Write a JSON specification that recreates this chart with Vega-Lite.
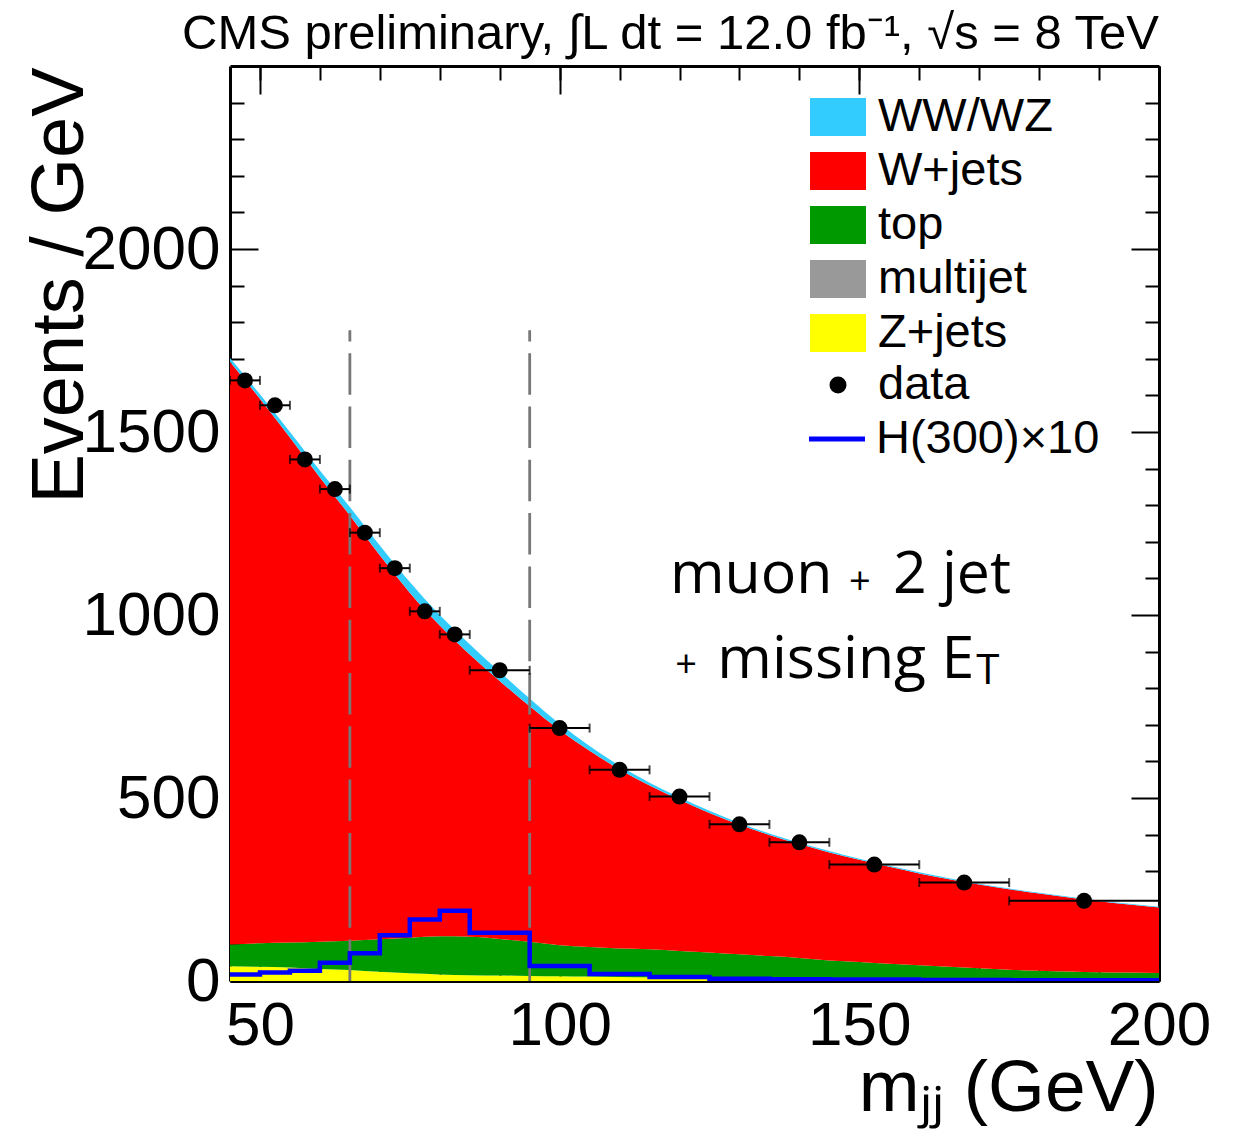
{
  "$schema": "https://vega.github.io/schema/vega-lite/v6.json",
  "width": 929,
  "height": 915,
  "autosize": {"type": "none"},
  "padding": {"left": 230, "top": 66, "right": 88, "bottom": 154},
  "background": "white",
  "config": {
    "font": "Liberation Sans",
    "view": {"stroke": null},
    "axis": {"grid": false, "tickColor": "black", "tickWidth": 2, "domainColor": "black", "labelColor": "black", "titleColor": "black", "labelFont": "Liberation Sans", "titleFont": "Liberation Sans", "zindex": 1},
    "legend": {"labelFont": "Liberation Sans", "labelColor": "black"}
  },
  "title": {
    "text": "CMS preliminary, ∫L dt = 12.0 fb⁻¹, √s = 8 TeV",
    "anchor": "end",
    "frame": "group",
    "fontSize": 49,
    "font": "Liberation Sans",
    "fontWeight": "normal",
    "color": "black",
    "baseline": "alphabetic",
    "offset": -33
  },
  "datasets": {
    "obs": [
      {"m": 47.5, "lo": 45, "hi": 50, "n": 1641},
      {"m": 52.5, "lo": 50, "hi": 55, "n": 1573},
      {"m": 57.5, "lo": 55, "hi": 60, "n": 1425},
      {"m": 62.5, "lo": 60, "hi": 65, "n": 1344},
      {"m": 67.5, "lo": 65, "hi": 70, "n": 1225},
      {"m": 72.5, "lo": 70, "hi": 75, "n": 1128},
      {"m": 77.5, "lo": 75, "hi": 80, "n": 1010},
      {"m": 82.5, "lo": 80, "hi": 85, "n": 947},
      {"m": 90, "lo": 85, "hi": 95, "n": 849},
      {"m": 100, "lo": 95, "hi": 105, "n": 691},
      {"m": 110, "lo": 105, "hi": 115, "n": 577},
      {"m": 120, "lo": 115, "hi": 125, "n": 504},
      {"m": 130, "lo": 125, "hi": 135, "n": 428},
      {"m": 140, "lo": 135, "hi": 145, "n": 379},
      {"m": 152.5, "lo": 145, "hi": 160, "n": 318},
      {"m": 167.5, "lo": 160, "hi": 175, "n": 269},
      {"m": 187.5, "lo": 175, "hi": 200, "n": 219}
    ]
  },
  "layer": [
    {
      "data": {"values": [
        {"m": 45, "process": "Z+jets", "ord": 1, "v": 40}, {"m": 50, "process": "Z+jets", "ord": 1, "v": 39}, {"m": 55, "process": "Z+jets", "ord": 1, "v": 37}, {"m": 60, "process": "Z+jets", "ord": 1, "v": 33},
        {"m": 65, "process": "Z+jets", "ord": 1, "v": 30}, {"m": 70, "process": "Z+jets", "ord": 1, "v": 25}, {"m": 75, "process": "Z+jets", "ord": 1, "v": 21}, {"m": 80, "process": "Z+jets", "ord": 1, "v": 18},
        {"m": 85, "process": "Z+jets", "ord": 1, "v": 16}, {"m": 90, "process": "Z+jets", "ord": 1, "v": 15}, {"m": 95, "process": "Z+jets", "ord": 1, "v": 14}, {"m": 100, "process": "Z+jets", "ord": 1, "v": 13},
        {"m": 105, "process": "Z+jets", "ord": 1, "v": 12}, {"m": 110, "process": "Z+jets", "ord": 1, "v": 11}, {"m": 115, "process": "Z+jets", "ord": 1, "v": 10}, {"m": 120, "process": "Z+jets", "ord": 1, "v": 9},
        {"m": 125, "process": "Z+jets", "ord": 1, "v": 8}, {"m": 130, "process": "Z+jets", "ord": 1, "v": 8}, {"m": 135, "process": "Z+jets", "ord": 1, "v": 7}, {"m": 140, "process": "Z+jets", "ord": 1, "v": 7},
        {"m": 145, "process": "Z+jets", "ord": 1, "v": 6}, {"m": 150, "process": "Z+jets", "ord": 1, "v": 6}, {"m": 155, "process": "Z+jets", "ord": 1, "v": 5}, {"m": 160, "process": "Z+jets", "ord": 1, "v": 5},
        {"m": 165, "process": "Z+jets", "ord": 1, "v": 5}, {"m": 170, "process": "Z+jets", "ord": 1, "v": 4}, {"m": 175, "process": "Z+jets", "ord": 1, "v": 4}, {"m": 180, "process": "Z+jets", "ord": 1, "v": 4},
        {"m": 185, "process": "Z+jets", "ord": 1, "v": 3}, {"m": 190, "process": "Z+jets", "ord": 1, "v": 3}, {"m": 195, "process": "Z+jets", "ord": 1, "v": 3}, {"m": 200, "process": "Z+jets", "ord": 1, "v": 3},

        {"m": 45, "process": "top", "ord": 3, "v": 60}, {"m": 50, "process": "top", "ord": 3, "v": 64}, {"m": 55, "process": "top", "ord": 3, "v": 68}, {"m": 60, "process": "top", "ord": 3, "v": 74},
        {"m": 65, "process": "top", "ord": 3, "v": 80}, {"m": 70, "process": "top", "ord": 3, "v": 89}, {"m": 75, "process": "top", "ord": 3, "v": 97}, {"m": 80, "process": "top", "ord": 3, "v": 104},
        {"m": 85, "process": "top", "ord": 3, "v": 105}, {"m": 90, "process": "top", "ord": 3, "v": 100}, {"m": 95, "process": "top", "ord": 3, "v": 93}, {"m": 100, "process": "top", "ord": 3, "v": 85},
        {"m": 105, "process": "top", "ord": 3, "v": 81}, {"m": 110, "process": "top", "ord": 3, "v": 78}, {"m": 115, "process": "top", "ord": 3, "v": 77}, {"m": 120, "process": "top", "ord": 3, "v": 73},
        {"m": 125, "process": "top", "ord": 3, "v": 70}, {"m": 130, "process": "top", "ord": 3, "v": 65}, {"m": 135, "process": "top", "ord": 3, "v": 61}, {"m": 140, "process": "top", "ord": 3, "v": 56},
        {"m": 145, "process": "top", "ord": 3, "v": 50}, {"m": 150, "process": "top", "ord": 3, "v": 46}, {"m": 155, "process": "top", "ord": 3, "v": 42}, {"m": 160, "process": "top", "ord": 3, "v": 38},
        {"m": 165, "process": "top", "ord": 3, "v": 34}, {"m": 170, "process": "top", "ord": 3, "v": 31}, {"m": 175, "process": "top", "ord": 3, "v": 27}, {"m": 180, "process": "top", "ord": 3, "v": 24},
        {"m": 185, "process": "top", "ord": 3, "v": 23}, {"m": 190, "process": "top", "ord": 3, "v": 21}, {"m": 195, "process": "top", "ord": 3, "v": 20}, {"m": 200, "process": "top", "ord": 3, "v": 19},

        {"m": 45, "process": "W+jets", "ord": 4, "v": 1592}, {"m": 50, "process": "W+jets", "ord": 4, "v": 1488}, {"m": 55, "process": "W+jets", "ord": 4, "v": 1380}, {"m": 60, "process": "W+jets", "ord": 4, "v": 1269},
        {"m": 65, "process": "W+jets", "ord": 4, "v": 1162}, {"m": 70, "process": "W+jets", "ord": 4, "v": 1049}, {"m": 75, "process": "W+jets", "ord": 4, "v": 943}, {"m": 80, "process": "W+jets", "ord": 4, "v": 849},
        {"m": 85, "process": "W+jets", "ord": 4, "v": 771}, {"m": 90, "process": "W+jets", "ord": 4, "v": 705}, {"m": 95, "process": "W+jets", "ord": 4, "v": 644}, {"m": 100, "process": "W+jets", "ord": 4, "v": 588},
        {"m": 105, "process": "W+jets", "ord": 4, "v": 536}, {"m": 110, "process": "W+jets", "ord": 4, "v": 489}, {"m": 115, "process": "W+jets", "ord": 4, "v": 447}, {"m": 120, "process": "W+jets", "ord": 4, "v": 413},
        {"m": 125, "process": "W+jets", "ord": 4, "v": 381}, {"m": 130, "process": "W+jets", "ord": 4, "v": 354}, {"m": 135, "process": "W+jets", "ord": 4, "v": 331}, {"m": 140, "process": "W+jets", "ord": 4, "v": 311},
        {"m": 145, "process": "W+jets", "ord": 4, "v": 295}, {"m": 150, "process": "W+jets", "ord": 4, "v": 279}, {"m": 155, "process": "W+jets", "ord": 4, "v": 265}, {"m": 160, "process": "W+jets", "ord": 4, "v": 251},
        {"m": 165, "process": "W+jets", "ord": 4, "v": 239}, {"m": 170, "process": "W+jets", "ord": 4, "v": 229}, {"m": 175, "process": "W+jets", "ord": 4, "v": 220}, {"m": 180, "process": "W+jets", "ord": 4, "v": 211},
        {"m": 185, "process": "W+jets", "ord": 4, "v": 202}, {"m": 190, "process": "W+jets", "ord": 4, "v": 194}, {"m": 195, "process": "W+jets", "ord": 4, "v": 186}, {"m": 200, "process": "W+jets", "ord": 4, "v": 179},

        {"m": 45, "process": "WW/WZ", "ord": 5, "v": 10}, {"m": 50, "process": "WW/WZ", "ord": 5, "v": 12}, {"m": 55, "process": "WW/WZ", "ord": 5, "v": 15}, {"m": 60, "process": "WW/WZ", "ord": 5, "v": 19},
        {"m": 65, "process": "WW/WZ", "ord": 5, "v": 23}, {"m": 70, "process": "WW/WZ", "ord": 5, "v": 27}, {"m": 75, "process": "WW/WZ", "ord": 5, "v": 29}, {"m": 80, "process": "WW/WZ", "ord": 5, "v": 29},
        {"m": 85, "process": "WW/WZ", "ord": 5, "v": 28}, {"m": 90, "process": "WW/WZ", "ord": 5, "v": 25}, {"m": 95, "process": "WW/WZ", "ord": 5, "v": 21}, {"m": 100, "process": "WW/WZ", "ord": 5, "v": 17},
        {"m": 105, "process": "WW/WZ", "ord": 5, "v": 13}, {"m": 110, "process": "WW/WZ", "ord": 5, "v": 10}, {"m": 115, "process": "WW/WZ", "ord": 5, "v": 8}, {"m": 120, "process": "WW/WZ", "ord": 5, "v": 7},
        {"m": 125, "process": "WW/WZ", "ord": 5, "v": 6}, {"m": 130, "process": "WW/WZ", "ord": 5, "v": 5}, {"m": 135, "process": "WW/WZ", "ord": 5, "v": 4}, {"m": 140, "process": "WW/WZ", "ord": 5, "v": 4},
        {"m": 145, "process": "WW/WZ", "ord": 5, "v": 4}, {"m": 150, "process": "WW/WZ", "ord": 5, "v": 3}, {"m": 155, "process": "WW/WZ", "ord": 5, "v": 3}, {"m": 160, "process": "WW/WZ", "ord": 5, "v": 3},
        {"m": 165, "process": "WW/WZ", "ord": 5, "v": 3}, {"m": 170, "process": "WW/WZ", "ord": 5, "v": 2}, {"m": 175, "process": "WW/WZ", "ord": 5, "v": 2}, {"m": 180, "process": "WW/WZ", "ord": 5, "v": 2},
        {"m": 185, "process": "WW/WZ", "ord": 5, "v": 2}, {"m": 190, "process": "WW/WZ", "ord": 5, "v": 2}, {"m": 195, "process": "WW/WZ", "ord": 5, "v": 2}, {"m": 200, "process": "WW/WZ", "ord": 5, "v": 2}
      ]},
      "mark": {"type": "area", "interpolate": "monotone", "opacity": 1, "clip": true},
      "encoding": {
        "x": {
          "field": "m", "type": "quantitative",
          "scale": {"domain": [45, 200], "nice": false, "zero": false},
          "axis": {"orient": "bottom", "values": [50, 100, 150, 200], "format": "d", "tickSize": -28, "tickWidth": 2, "labelFontSize": 62, "labelPadding": 42, "labelFlush": false, "labelOverlap": false, "labelBound": false, "domain": true, "domainWidth": 3, "title": "mⱼⱼ (GeV)", "titleFontSize": 73, "titleFontWeight": "normal", "titleAlign": "right", "titleBaseline": "alphabetic", "titleX": 928, "titleY": 129}
        },
        "y": {
          "field": "v", "type": "quantitative", "stack": "zero",
          "scale": {"domain": [0, 2500], "nice": false},
          "axis": {"orient": "left", "values": [0, 500, 1000, 1500, 2000], "format": "d", "tickSize": -28, "tickWidth": 2, "labelFontSize": 62, "labelPadding": 38, "labelFlush": false, "labelOverlap": false, "labelBound": false, "domain": true, "domainWidth": 3, "title": "Events / GeV", "titleFontSize": 74, "titleFontWeight": "normal", "titleAngle": 270, "titleAlign": "right", "titleBaseline": "alphabetic", "titleX": -148, "titleY": 1}
        },
        "fill": {
          "field": "process", "type": "nominal",
          "scale": {"domain": ["WW/WZ", "W+jets", "top", "multijet", "Z+jets"], "range": ["#33ccff", "#ff0000", "#009900", "#999999", "#ffff00"]},
          "legend": {"orient": "none", "legendX": 580, "legendY": 24, "title": null, "direction": "vertical", "symbolType": "M-1,-0.68H1V0.68H-1Z", "symbolSize": 3136, "symbolStrokeWidth": 0, "symbolOpacity": 1, "labelFontSize": 47, "labelOffset": 12, "clipHeight": 54, "rowPadding": 0, "padding": 0, "labelLimit": 400}
        },
        "order": {"field": "ord", "type": "quantitative"}
      }
    },
    {
      "data": {"values": [{"cut": 65, "from": 0, "to": 1778}, {"cut": 95, "from": 0, "to": 1778}]},
      "mark": {"type": "rule", "stroke": "#777777", "strokeWidth": 2.8, "strokeDash": [41.5, 11.8]},
      "encoding": {
        "x": {"field": "cut", "type": "quantitative", "axis": {"orient": "bottom", "values": [50, 60, 70, 80, 90, 100, 110, 120, 130, 140, 150, 160, 170, 180, 190, 200], "tickSize": -14, "tickWidth": 2, "labels": false, "domain": false, "title": null}},
        "y": {"field": "from", "type": "quantitative", "axis": {"orient": "left", "values": [100, 200, 300, 400, 600, 700, 800, 900, 1100, 1200, 1300, 1400, 1600, 1700, 1800, 1900, 2100, 2200, 2300, 2400], "tickSize": -14, "tickWidth": 2, "labels": false, "domain": false, "title": null}},
        "y2": {"field": "to"}
      }
    },
    {
      "data": {"values": [
        {"m": 45, "h": 18}, {"m": 50, "h": 23}, {"m": 55, "h": 28}, {"m": 60, "h": 50}, {"m": 65, "h": 76}, {"m": 70, "h": 125},
        {"m": 75, "h": 168}, {"m": 80, "h": 192}, {"m": 85, "h": 132}, {"m": 95, "h": 41}, {"m": 105, "h": 19}, {"m": 115, "h": 11},
        {"m": 125, "h": 6}, {"m": 135, "h": 5}, {"m": 145, "h": 4}, {"m": 160, "h": 3}, {"m": 175, "h": 2}, {"m": 200, "h": 2}
      ]},
      "mark": {"type": "line", "interpolate": "step-after", "strokeWidth": 4.5, "clip": true},
      "encoding": {
        "x": {"field": "m", "type": "quantitative", "axis": {"orient": "top", "values": [50, 100, 150, 200], "tickSize": -28, "tickWidth": 2, "labels": false, "domain": true, "domainWidth": 3, "title": null}},
        "y": {"field": "h", "type": "quantitative", "axis": {"orient": "right", "values": [0, 500, 1000, 1500, 2000], "tickSize": -28, "tickWidth": 2, "labels": false, "domain": true, "domainWidth": 3, "title": null}},
        "stroke": {
          "datum": "H(300)×10",
          "scale": {"range": ["#0000ff"]},
          "legend": {"orient": "none", "legendX": 576.5, "legendY": 346, "title": null, "symbolType": "stroke", "symbolSize": 3136, "symbolStrokeWidth": 5, "labelFontSize": 47, "labelOffset": 8.5, "clipHeight": 54, "rowPadding": 0, "padding": 0, "labelLimit": 400}
        }
      }
    },
    {
      "data": {"name": "obs"},
      "mark": {"type": "errorbar", "color": "black", "thickness": 2, "ticks": {"size": 9, "thickness": 2, "color": "black"}},
      "encoding": {
        "x": {"field": "lo", "type": "quantitative", "axis": null},
        "x2": {"field": "hi"},
        "y": {"field": "n", "type": "quantitative", "axis": null}
      }
    },
    {
      "data": {"name": "obs"},
      "mark": {"type": "point", "filled": true, "color": "black", "size": 256, "opacity": 1, "strokeWidth": 0},
      "encoding": {
        "x": {"field": "m", "type": "quantitative", "axis": {"orient": "top", "values": [50, 60, 70, 80, 90, 100, 110, 120, 130, 140, 150, 160, 170, 180, 190, 200], "tickSize": -14, "tickWidth": 2, "labels": false, "domain": false, "title": null}},
        "y": {"field": "n", "type": "quantitative", "axis": {"orient": "right", "values": [100, 200, 300, 400, 600, 700, 800, 900, 1100, 1200, 1300, 1400, 1600, 1700, 1800, 1900, 2100, 2200, 2300, 2400], "tickSize": -14, "tickWidth": 2, "labels": false, "domain": false, "title": null}},
        "shape": {
          "datum": "data",
          "scale": {"range": ["circle"]},
          "legend": {"orient": "none", "legendX": 584.5, "legendY": 292, "title": null, "symbolSize": 289, "symbolFillColor": "black", "symbolStrokeWidth": 0, "symbolOpacity": 1, "labelFontSize": 47, "labelOffset": 16.5, "clipHeight": 54, "rowPadding": 0, "padding": 0, "labelLimit": 400}
        }
      }
    },
    {
      "data": {"values": [{}]},
      "mark": {"type": "text", "text": "muon", "font": "Open Sans", "fontSize": 59, "align": "left", "baseline": "alphabetic", "color": "black"},
      "encoding": {"x": {"datum": 118.4, "type": "quantitative", "axis": null}, "y": {"datum": 1060, "type": "quantitative", "axis": null}}
    },
    {
      "data": {"values": [{}]},
      "mark": {"type": "text", "text": "+", "font": "Open Sans", "fontSize": 38, "align": "center", "baseline": "middle", "color": "black"},
      "encoding": {"x": {"datum": 150.1, "type": "quantitative", "axis": null}, "y": {"datum": 1087, "type": "quantitative", "axis": null}}
    },
    {
      "data": {"values": [{}]},
      "mark": {"type": "text", "text": "2 jet", "font": "Open Sans", "fontSize": 59, "align": "left", "baseline": "alphabetic", "color": "black"},
      "encoding": {"x": {"datum": 155.6, "type": "quantitative", "axis": null}, "y": {"datum": 1060, "type": "quantitative", "axis": null}}
    },
    {
      "data": {"values": [{}]},
      "mark": {"type": "text", "text": "+", "font": "Open Sans", "fontSize": 38, "align": "center", "baseline": "middle", "color": "black"},
      "encoding": {"x": {"datum": 121.1, "type": "quantitative", "axis": null}, "y": {"datum": 861, "type": "quantitative", "axis": null}}
    },
    {
      "data": {"values": [{}]},
      "mark": {"type": "text", "text": "missing E", "font": "Open Sans", "fontSize": 59, "align": "left", "baseline": "alphabetic", "color": "black"},
      "encoding": {"x": {"datum": 126.3, "type": "quantitative", "axis": null}, "y": {"datum": 828, "type": "quantitative", "axis": null}}
    },
    {
      "data": {"values": [{}]},
      "mark": {"type": "text", "text": "T", "font": "Open Sans", "fontSize": 42, "align": "left", "baseline": "alphabetic", "color": "black"},
      "encoding": {"x": {"datum": 169.5, "type": "quantitative", "axis": null}, "y": {"datum": 811, "type": "quantitative", "axis": null}}
    }
  ],
  "resolve": {"axis": {"x": "independent", "y": "independent"}}
}
